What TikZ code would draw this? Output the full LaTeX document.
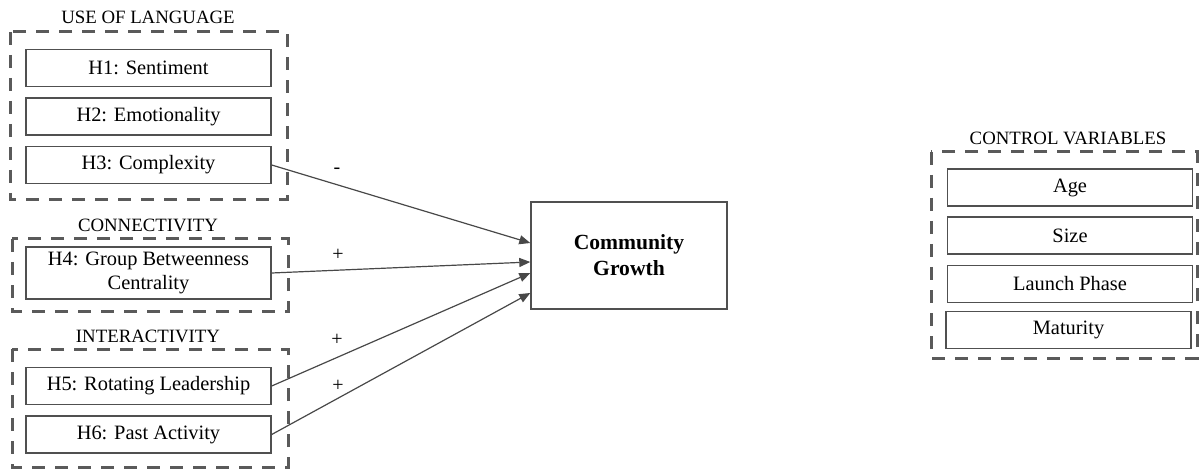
\documentclass[tikz,border=0pt]{standalone}
\usepackage{fontspec}
\setmainfont{Liberation Serif}
\usetikzlibrary{arrows.meta,calc}
\definecolor{boxline}{HTML}{505050}
\definecolor{dashline}{HTML}{5A5A5A}
\definecolor{arrowline}{HTML}{484848}
\tikzset{
  varbox/.style={draw=boxline,line width=0.7pt,minimum width=122.5pt,minimum height=18.5pt,inner sep=0pt,font=\fontsize{10.2}{12.2}\selectfont,text=black},
  groupbox/.style={draw=dashline,line width=1.5pt,dash pattern=on 6.5pt off 5pt},
  grouptitle/.style={font=\fontsize{9.4}{11}\selectfont,text=black,inner sep=0pt},
  effect/.style={draw=arrowline,line width=0.6pt,-{Triangle[length=5.5pt,width=4.5pt]}},
  sign/.style={font=\fontsize{10}{12}\selectfont,text=black,inner sep=0pt}
}
\begin{document}
\begin{tikzpicture}[x=0.5pt,y=-0.5pt]
\useasboundingbox (0,0) rectangle (1204,470);
% group frames
\draw[groupbox] (10,32) rectangle (287,200);
\draw[groupbox] (12,239) rectangle (288,311);
\draw[groupbox] (12,349) rectangle (288,467);
\draw[groupbox] (931,152) rectangle (1197,358);
% titles
\node[grouptitle] (tlang) at (148,17) {USE OF LANGUAGE};
\node[grouptitle] (tconn) at (148,225) {CONNECTIVITY};
\node[grouptitle] (tint) at (148,336) {INTERACTIVITY};
\node[grouptitle] (tctrl) at (1068,138) {CONTROL VARIABLES};
% variables
\node[varbox] (h1) at (148.5,68) {H1: Sentiment};
\node[varbox] (h2) at (148.5,116.5) {H2: Emotionality};
\node[varbox] (h3) at (148.5,165) {H3: Complexity};
\node[varbox,minimum height=26pt,align=center] (h4) at (148.5,273) {H4: Group Betweenness\\Centrality};
\node[varbox] (h5) at (148.5,386) {H5: Rotating Leadership};
\node[varbox] (h6) at (148.5,434.5) {H6: Past Activity};
% control variables
\node[varbox] (age) at (1070,187.5) {Age};
\node[varbox] (size) at (1070,235.5) {Size};
\node[varbox] (launch) at (1070,284) {Launch Phase};
\node[varbox] (mat) at (1068.5,330) {Maturity};
% outcome
\node[draw=boxline,line width=0.7pt,minimum width=98pt,minimum height=53.5pt,inner sep=0pt,align=center,font=\fontsize{10.8}{13}\selectfont\bfseries] (cg) at (629,255.5) {Community\\Growth};
\coordinate (t3) at ($(cg.west)+(0,-12.5)$);
\coordinate (t4) at ($(cg.west)+(0,6.5)$);
\coordinate (t5) at ($(cg.west)+(0,17.5)$);
\coordinate (t6) at ($(cg.west)+(0,37.5)$);
\draw[effect] (h3.east) -- (t3);
\draw[effect] (h4.east) -- (t4);
\draw[effect] (h5.east) -- (t5);
\draw[effect] (h6.east) -- (t6);
% signs
\node[sign] (s3) at (337,171) {-};
\node[sign] (s4) at (338,255) {+};
\node[sign] (s5) at (337,340) {+};
\node[sign] (s6) at (338,386) {+};
\end{tikzpicture}
\end{document}
